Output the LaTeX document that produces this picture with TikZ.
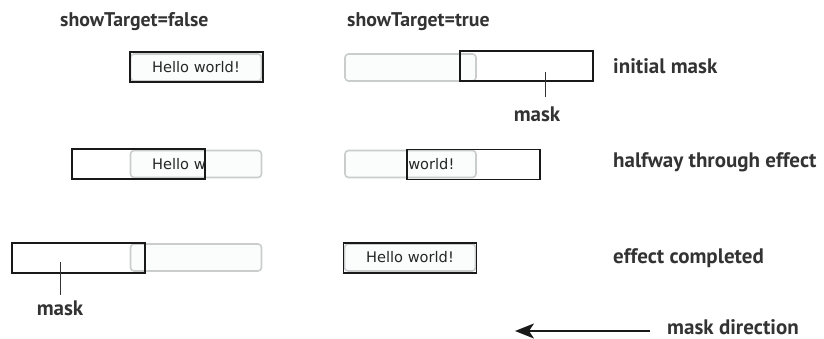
\documentclass[tikz,border=0pt]{standalone}
\usepackage{fontspec}
\setmainfont{PT Sans}
\newfontfamily\btnfont{DejaVu Sans}
\usetikzlibrary{arrows.meta}
\definecolor{txtgray}{HTML}{333333}
\definecolor{btnedge}{HTML}{C9CDCD}
\definecolor{btnfill}{HTML}{FBFCFC}
\begin{document}
\begin{tikzpicture}[x=1pt,y=-1pt,
    heading/.style={anchor=west,inner sep=0pt,text=txtgray,font=\fontsize{19.8}{22}\selectfont\bfseries},
    rowlabel/.style={heading,font=\fontsize{21}{23}\selectfont\bfseries},
    button/.style={draw=btnedge,fill=btnfill,line width=1.6pt,rounded corners=3.5pt,
      minimum width=131pt,minimum height=27pt,inner sep=0pt},
    btntext/.style={inner sep=0pt,font=\btnfont\fontsize{14.6}{16}\selectfont,text=black!85},
    maskbox/.style={draw=black!90,line width=1.1pt,minimum width=133pt,minimum height=30pt,inner sep=0pt},
    pointer/.style={draw=black!80,line width=0.9pt}]
  \useasboundingbox (0,0) rectangle (824,339);
  % column headings
  \node[heading] (hfalse) at (60,22) {showTarget=false};
  \node[heading] (htrue) at (347,22) {showTarget=true};
  % row labels
  \node[rowlabel] (linit) at (613,66) {initial mask};
  \node[rowlabel] (lhalf) at (613,162) {halfway through effect};
  \node[rowlabel] (ldone) at (613,258) {effect completed};

  % row 1
  \node[button] (b1l) at (196,67.5) {};
  \node[maskbox] (m1l) at (196.5,67) {};
  \node[btntext] (t1l) at (b1l) {Hello world!};
  \node[button] (b1r) at (410.5,67.5) {};
  \node[maskbox] (m1r) at (526.5,66) {};
  \coordinate (p1) at (545,72);
  \node[rowlabel,anchor=north] (mk1) at (537,107) {mask};
  \draw[pointer,shorten >=10pt] (p1) -- (mk1.north -| p1);

  % row 2
  \node[button] (b2l) at (196,164) {};
  \node[maskbox] (m2l) at (138.5,164) {};
  \begin{scope}
    \clip (m2l.south west) rectangle (m2l.north east);
    \node[btntext] (t2l) at (b2l) {Hello world!};
  \end{scope}
  \node[button] (b2r) at (410.5,164) {};
  \node[maskbox] (m2r) at (473.5,164.5) {};
  \begin{scope}
    \clip (m2r.south west) rectangle (m2r.north east);
    \node[btntext] (t2r) at (b2r) {Hello world!};
  \end{scope}

  % row 3
  \node[button] (b3l) at (196,257.5) {};
  \node[maskbox] (m3l) at (78.5,258) {};
  \coordinate (p3) at (60,262);
  \node[rowlabel,anchor=north] (mk3) at (60,301) {mask};
  \draw[pointer,shorten >=6pt] (p3) -- (mk3.north -| p3);
  \node[button] (b3r) at (410,257.5) {};
  \node[maskbox] (m3r) at (410,258) {};
  \node[btntext] (t3r) at (b3r) {Hello world!};

  % direction
  \node[rowlabel] (dir) at (667,327) {mask direction};
  \coordinate (tip) at ([xshift=-152pt,yshift=-4pt]dir.west);
  \draw[line width=1.9pt,black!90,-{Stealth[length=19pt,width=15pt,inset=5pt]}]
    ([xshift=-17pt,yshift=-4pt]dir.west) -- (tip);
\end{tikzpicture}
\end{document}
